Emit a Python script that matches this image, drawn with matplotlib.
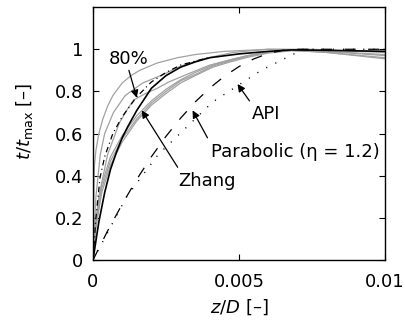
import numpy as np
import matplotlib
matplotlib.use('Agg')
import matplotlib.pyplot as plt

plt.rcParams['font.family'] = ['DejaVu Sans']
plt.rcParams['mathtext.fontset'] = 'dejavusans'
plt.rcParams['lines.scale_dashes'] = False

# Измеренные кривые (серые)
g1_z = [0, 0.00002, 0.00005, 0.0001, 0.0002, 0.00034, 0.0005, 0.00068, 0.001, 0.0013, 0.0016,
        0.0022, 0.0029, 0.0035, 0.0045, 0.006, 0.008, 0.01]
g1_t = [0, 0.25, 0.45, 0.52, 0.6, 0.67, 0.73, 0.78, 0.84, 0.875, 0.9,
        0.935, 0.96, 0.975, 0.99, 1.0, 0.995, 0.99]

g2_z = [0, 0.0001, 0.00025, 0.0004, 0.0007, 0.0011, 0.0017, 0.0024, 0.003, 0.0038, 0.0048,
        0.006, 0.0075, 0.01]
g2_t = [0, 0.3, 0.5, 0.6, 0.7, 0.78, 0.84, 0.88, 0.92, 0.955, 0.985,
        1.0, 1.0, 0.985]

g3_z = [0, 0.0001, 0.0002, 0.0005, 0.0009, 0.0012, 0.0014, 0.0018, 0.0022, 0.0026, 0.0032,
        0.004, 0.0047, 0.0053, 0.006, 0.0068, 0.008, 0.01]
g3_t = [0, 0.18, 0.3, 0.5, 0.65, 0.72, 0.76, 0.79, 0.815, 0.845, 0.88,
        0.925, 0.95, 0.97, 0.985, 0.995, 0.985, 0.96]

g4_z = [0, 0.0001, 0.0003, 0.0006, 0.001, 0.0015, 0.002, 0.0025, 0.003, 0.0035, 0.0041,
        0.0047, 0.0053, 0.006, 0.0068, 0.008, 0.01]
g4_t = [0, 0.17, 0.34, 0.47, 0.575, 0.67, 0.745, 0.8, 0.85, 0.88, 0.92,
        0.945, 0.967, 0.985, 0.995, 0.985, 0.955]

g5_z = [0, 0.0001, 0.0003, 0.0006, 0.001, 0.0015, 0.002, 0.0025, 0.003, 0.0035, 0.0041,
        0.0047, 0.0053, 0.006, 0.0068, 0.008, 0.01]
g5_t = [0, 0.19, 0.36, 0.49, 0.59, 0.685, 0.755, 0.81, 0.855, 0.89, 0.925,
        0.95, 0.97, 0.987, 0.997, 0.99, 0.97]

g6_z = [0, 0.0001, 0.0003, 0.0006, 0.001, 0.0015, 0.002, 0.0025, 0.003, 0.0035, 0.0041,
        0.0047, 0.0053, 0.006, 0.0068, 0.008, 0.01]
g6_t = [0, 0.15, 0.32, 0.45, 0.56, 0.66, 0.735, 0.79, 0.84, 0.875, 0.915,
        0.94, 0.962, 0.982, 0.993, 0.99, 0.975]

# Zhang (сплошная)
zhang_z = [0, 0.0002, 0.0004, 0.0006, 0.0008, 0.001, 0.0012, 0.0015, 0.002, 0.0025, 0.003,
           0.0035, 0.004, 0.005, 0.006, 0.0068, 0.008, 0.01]
zhang_t = [0, 0.18, 0.32, 0.43, 0.51, 0.58, 0.635, 0.71, 0.815, 0.875, 0.915,
           0.94, 0.96, 0.978, 0.99, 0.997, 0.995, 0.99]

# 80% (штрих-пунктир)
p80_z = [0, 0.0001, 0.00024, 0.0004, 0.00068, 0.001, 0.00147, 0.002, 0.0025, 0.003, 0.004]
p80_t = [0, 0.2, 0.39, 0.49, 0.6, 0.68, 0.77, 0.845, 0.89, 0.925, 0.962]

# Parabolic (штрихи)
par_z = [0, 0.0005, 0.001, 0.0015, 0.002, 0.0025, 0.003, 0.0035, 0.004, 0.0045, 0.005,
         0.0055, 0.006, 0.0065, 0.007, 0.01]
par_t = [0, 0.138, 0.265, 0.383, 0.49, 0.587, 0.673, 0.75, 0.816, 0.872, 0.918,
         0.954, 0.98, 0.995, 1.0, 1.0]

# API (точки)
api_z = [0, 0.00115, 0.00223, 0.0041, 0.00576, 0.0072, 0.01]
api_t = [0, 0.3, 0.5, 0.75, 0.9, 1.0, 1.0]

fig = plt.figure(figsize=(4.05, 3.24), dpi=100)
ax = fig.add_axes([0.2296, 0.1975, 0.7210, 0.7805])

grey = '0.63'
for z, t in [(g1_z, g1_t), (g2_z, g2_t), (g3_z, g3_t), (g4_z, g4_t), (g5_z, g5_t), (g6_z, g6_t)]:
    ax.plot(z, t, color=grey, lw=0.9)

ax.plot(api_z, api_t, color='k', lw=1.0, linestyle=(0, (0.8, 6.5)))
ax.plot(par_z, par_t, color='k', lw=0.9, linestyle=(0, (8, 9)))
ax.plot(p80_z, p80_t, color='k', lw=0.9, linestyle=(0, (4, 2.5, 0.8, 2.5)))
ax.plot(zhang_z, zhang_t, color='k', lw=1.2)

fs = 13
arr = dict(arrowstyle='-|>', color='k', lw=0.9, mutation_scale=11, shrinkA=0, shrinkB=0)
ax.annotate('', xy=(0.0015, 0.77), xytext=(0.00123, 0.9), arrowprops=arr)
ax.text(0.00123, 0.953, '80%', ha='center', va='center', fontsize=fs)
ax.annotate('', xy=(0.00167, 0.71), xytext=(0.0029, 0.44), arrowprops=arr)
ax.text(0.00392, 0.375, 'Zhang', ha='center', va='center', fontsize=fs)
ax.annotate('', xy=(0.00495, 0.835), xytext=(0.00536, 0.755), arrowprops=arr)
ax.text(0.00594, 0.693, 'API', ha='center', va='center', fontsize=fs)
ax.annotate('', xy=(0.00341, 0.71), xytext=(0.00392, 0.58), arrowprops=arr)
ax.text(0.00693, 0.514, 'Parabolic (η = 1.2)', ha='center', va='center', fontsize=fs)

ax.set_xlim(0, 0.01)
ax.set_ylim(0, 1.2)
ax.set_xticks([0, 0.005, 0.01])
ax.set_xticklabels(['0', '0.005', '0.01'])
ax.set_yticks([0, 0.2, 0.4, 0.6, 0.8, 1.0])
ax.set_yticklabels(['0', '0.2', '0.4', '0.6', '0.8', '1'])
ax.tick_params(direction='in', top=True, right=True, labelsize=fs, length=4, width=0.8)
ax.tick_params(axis='x', pad=9)
ax.tick_params(axis='y', pad=7)
for s in ax.spines.values():
    s.set_linewidth(1.0)

ax.set_xlabel(r'$z/D$ [–]', fontsize=fs)
ax.set_ylabel(r'$t/t_{\rm max}$ [–]', fontsize=fs)
ax.xaxis.set_label_coords(0.5, -0.186)
ax.yaxis.set_label_coords(-0.233, 0.55)
ax.xaxis.label.set_va('center')
ax.yaxis.label.set_va('center')

fig.savefig('out.png', dpi=100)
